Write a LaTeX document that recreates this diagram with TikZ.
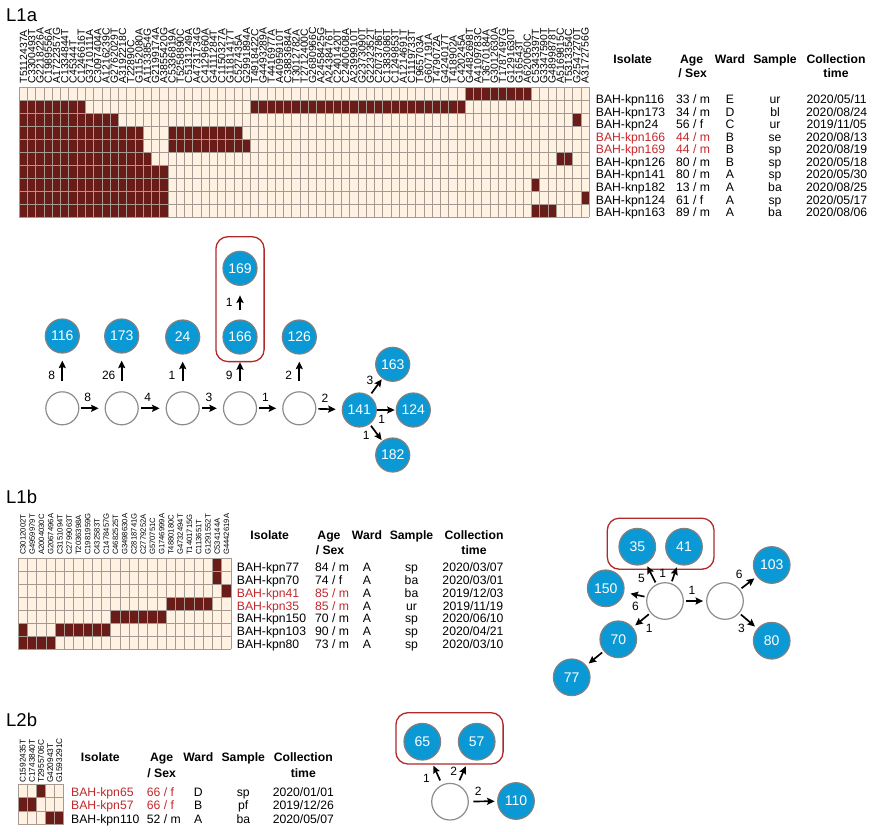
\documentclass[tikz,border=0pt]{standalone}
\usepackage{fontspec}
\setmainfont{Liberation Sans}
\usetikzlibrary{arrows.meta, positioning, fit, calc}

\definecolor{mutcell}{HTML}{6A1C18}
\definecolor{wtcell}{HTML}{FFF2E3}
\definecolor{gridc}{HTML}{A79A93}
\definecolor{isoblue}{HTML}{0A99D5}
\definecolor{boxred}{HTML}{B02A2C}
\definecolor{txtred}{HTML}{C4282C}

\tikzset{
	iso/.style={circle, draw=black!50, line width=1.2pt, fill=isoblue, text=white, minimum size=34pt, inner sep=0pt, font=\fontsize{14}{16}\selectfont},
	isob/.style={iso, minimum size=36.6pt},
	anc/.style={circle, draw=black!45, line width=1.2pt, fill=white, minimum size=33pt, inner sep=0pt},
	ancb/.style={anc, minimum size=36.6pt},
	arr/.style={line width=1.7pt, -{Stealth[length=7.5pt,width=7pt,inset=1.2pt]}, shorten <=2pt, shorten >=3pt},
	uparr/.style={shorten <=10pt, shorten >=7pt},
	elab/.style={inner sep=0.5pt, font=\fontsize{12}{14}\selectfont},
	clus/.style={draw=boxred, line width=1.3pt, rounded corners=12pt},
	gridln/.style={draw=gridc, line width=0.8pt},
	mutlab/.style={rotate=90, anchor=west, inner sep=0pt},
	hdr/.style={font=\bfseries\fontsize{12.2}{14}\selectfont, inner sep=0pt, anchor=base},
	cell/.style={font=\fontsize{12.2}{14}\selectfont, inner sep=0pt},
	panel/.style={font=\fontsize{18.5}{20}\selectfont, anchor=base west, inner sep=0pt},
}

\begin{document}
\begin{tikzpicture}[x=1pt, y=-1pt]
	\useasboundingbox (0,0) rectangle (876,831);
	\fill[white] (0,0) rectangle (876,831);
	
	% panel titles
	\node[panel] (tA) at (6,21.7) {L1a};
	\node[panel] (tB) at (6,503) {L1b};
	\node[panel] (tC) at (6,726.7) {L2b};
	
	%%% L1a
	% SNP matrix
	\def\mutsA{T5112437A,C3300493T,G2218226A,C1989556A,A1722357G,C1334844T,C45344T,C1246616T,G3710111A,C3097404A,A1216239C,G2762029T,A3192218C,T22890C,G1152080A,A1133854G,G2199174A,A3855420G,C5336819A,T5258890C,C5131249A,A4731734G,C4129660A,G4111284T,C1150327A,G1181417T,C527435A,G2991894A,T4918422C,G4493289A,T4416977A,A4095910T,C3883684A,T3012782A,T2712400C,G2680966C,A2458425G,A2438476T,C2401420T,C2400608A,A2399910T,G2373090T,G2232352T,C2073786T,C1383086T,C1249853T,A1214691T,C1119733T,T965703A,G607191A,T479072A,G424017T,T418902A,C420245A,G4482698T,A4109783C,T3670184A,G3012630A,T1787497G,G1291630T,G16543T,A620050C,C5343397T,G3347590T,G4899878T,A5169815C,T5313354C,G2547270T,A3172756G}
	\begin{scope}[shift={(19.3,87.3)}, x=8.26pt, y=-13pt]
		\fill[wtcell] (0,0) rectangle (69,10);
		\foreach \r/\a/\b in {1/55/62, 2/1/8, 2/29/54, 3/1/12, 3/68/68, 4/1/15, 4/19/27, 5/1/15, 5/19/28, 6/1/16, 6/66/67, 7/1/18, 8/1/18, 8/63/63, 9/1/18, 9/69/69, 10/1/18, 10/63/65}
			\fill[mutcell] (\a-1,\r-1) rectangle (\b,\r);
		\foreach \c in {0,...,69} \draw[gridln] (\c,0) -- (\c,10);
		\foreach \r in {0,...,10} \draw[gridln] (0,\r) -- (69,\r);
		\foreach \m [count=\i] in \mutsA
			\node[mutlab, font=\fontsize{10.4}{12}\selectfont] (mA\i) at (\i-0.5,-0.3) {\m};
	\end{scope}
	
	% metadata
	\node[hdr] (hIA) at (632.7,63.3) {Isolate};
	\node[hdr] (hAA) at (691.7,63.3) {Age};
	\node[hdr] (hSA) at (692.7,77.6) {/ Sex};
	\node[hdr] (hWA) at (730,63.3) {Ward};
	\node[hdr] (hPA) at (775,63.3) {Sample};
	\node[hdr] (hCA) at (836,63.3) {Collection};
	\node[hdr] (hTA) at (836,77.6) {time};
	\foreach \iso/\age/\sex/\ward/\smp/\yr/\mo/\dy/\tc [count=\i] in {
		BAH-kpn116/33/m/E/ur/2020/05/11/black,
		BAH-kpn173/34/m/D/bl/2020/08/24/black,
		BAH-kpn24/56/f/C/ur/2019/11/05/black,
		BAH-kpn166/44/m/B/se/2020/08/13/txtred,
		BAH-kpn169/44/m/B/sp/2020/08/19/txtred,
		BAH-kpn126/80/m/B/sp/2020/05/18/black,
		BAH-kpn141/80/m/A/sp/2020/05/30/black,
		BAH-knp182/13/m/A/ba/2020/08/25/black,
		BAH-kpn124/61/f/A/sp/2020/05/17/black,
		BAH-kpn163/89/m/A/ba/2020/08/06/black}{
		\node[cell, anchor=base west, text=\tc] (iA\i) at (595.7,91.05+12.55*\i) {\iso};
		\node[cell, anchor=base west, text=\tc] (gA\i) at (676,91.05+12.55*\i) {\age\ / \sex};
		\node[cell, anchor=base] (wA\i) at (730,91.05+12.55*\i) {\ward};
		\node[cell, anchor=base] (sA\i) at (775,91.05+12.55*\i) {\smp};
		\node[cell, anchor=base] (dA\i) at (836.7,91.05+12.55*\i) {\yr/\mo/\dy};
	}
	
	% transmission tree
	\node[anc] (a1) at (62.3,408.3) {};
	\node[anc] (a2) at (121.7,408.3) {};
	\node[anc] (a3) at (182.7,408.3) {};
	\node[anc] (a4) at (240,408.3) {};
	\node[anc] (a5) at (299.3,408.3) {};
	\node[iso] (n116) at (62.3,336) {116};
	\node[iso] (n173) at (121.7,336) {173};
	\node[iso] (n24) at (182.7,337) {24};
	\node[iso] (n166) at (240,337) {166};
	\node[iso] (n169) at (240,268.3) {169};
	\node[iso] (n126) at (299.3,337) {126};
	\node[iso] (n141) at (359.3,410) {141};
	\node[iso] (n163) at (392.7,364.3) {163};
	\node[iso] (n124) at (413.3,410) {124};
	\node[iso] (n182) at (392.7,455) {182};
	\coordinate (c1top) at (240,243.7);
	\node[clus, inner xsep=6.5pt, inner ysep=7pt, fit=(n166)(c1top)] (box1) {};
	
	\draw[arr, shorten >=6pt] (a1) -- node[elab, above=5.5pt, pos=0.33] (h1) {8} (a2);
	\draw[arr, shorten >=6pt] (a2) -- node[elab, above=5.5pt, pos=0.33] (h2) {4} (a3);
	\draw[arr, shorten >=6pt] (a3) -- node[elab, above=5.5pt, pos=0.4] (h3) {3} (a4);
	\draw[arr, shorten >=6pt] (a4) -- node[elab, above=5.5pt, pos=0.33] (h4) {1} (a5);
	\draw[arr, shorten >=6pt] (a5) -- node[elab, above=5.5pt, pos=0.34] (h5) {2} (n141);
	
	\draw[arr, uparr] (a1) -- node[elab, left=6pt, pos=0.43] (v1) {8} (n116);
	\draw[arr, uparr] (a2) -- node[elab, left=5pt, pos=0.43] (v2) {26} (n173);
	\draw[arr, uparr] (a3) -- node[elab, left=6pt, pos=0.43] (v3) {1} (n24);
	\draw[arr, shorten <=10pt, shorten >=0pt] (a4) -- node[elab, left=6pt, pos=0.55] (v4) {9} (box1);
	\draw[arr, uparr] (a5) -- node[elab, left=6pt, pos=0.43] (v5) {2} (n126);
	\draw[arr, shorten <=9pt, shorten >=9.5pt] (n166) -- node[elab, left=6pt] (v6) {1} (n169);
	
	\draw[arr, shorten <=3pt, shorten >=1pt] (n141) -- node[elab, above left=2pt] (r1) {3} (n163);
	\draw[arr, shorten <=0pt, shorten >=1pt] (n141) -- node[elab, below=4pt, pos=0.25] (r2) {1} (n124);
	\draw[arr, shorten >=1pt] (n141) -- node[elab, left=7pt, pos=0.65] (r3) {1} (n182);
	
	%%% L1b
	% SNP matrix
	\def\mutsB{C3012002T,G4959979T,A2004030C,G2067496A,C3151094T,C2799063T,T2036398A,C1981959G,C432583T,C1478457G,C4682525T,G3498630A,C2818741G,C2779252A,G570751C,G1746999A,T4880180C,G4732494T,T1401715G,C113651T,G1291552T,C534144A,G4442619A}
	\begin{scope}[shift={(18.3,558.3)}, x=9.25pt, y=-12.95pt]
		\fill[wtcell] (0,0) rectangle (23,7);
		\foreach \r/\a/\b in {1/22/22, 2/22/22, 3/23/23, 4/17/21, 5/11/16, 6/1/1, 6/5/10, 7/1/4}
			\fill[mutcell] (\a-1,\r-1) rectangle (\b,\r);
		\foreach \c in {0,...,23} \draw[gridln] (\c,0) -- (\c,7);
		\foreach \r in {0,...,7} \draw[gridln] (0,\r) -- (23,\r);
		\foreach \m [count=\i] in \mutsB
			\node[mutlab, font=\fontsize{7.7}{9}\selectfont] (mB\i) at (\i-0.5,-0.25) {\m};
	\end{scope}
	
	% metadata
	\node[hdr] (hIB) at (269.7,539.3) {Isolate};
	\node[hdr] (hAB) at (329,539.3) {Age};
	\node[hdr] (hSB) at (330,554) {/ Sex};
	\node[hdr] (hWB) at (367,539.3) {Ward};
	\node[hdr] (hPB) at (411.5,539.3) {Sample};
	\node[hdr] (hCB) at (474,539.3) {Collection};
	\node[hdr] (hTB) at (474,554) {time};
	\foreach \iso/\age/\sex/\ward/\smp/\yr/\mo/\dy/\tc [count=\i] in {
		BAH-kpn77/84/m/A/sp/2020/03/07/black,
		BAH-kpn70/74/f/A/ba/2020/03/01/black,
		BAH-kpn41/85/m/A/ba/2019/12/03/txtred,
		BAH-kpn35/85/m/A/ur/2019/11/19/txtred,
		BAH-kpn150/70/m/A/sp/2020/06/10/black,
		BAH-kpn103/90/m/A/sp/2020/04/21/black,
		BAH-kpn80/73/m/A/sp/2020/03/10/black}{
		\node[cell, anchor=base west, text=\tc] (iB\i) at (236.7,558.8+12.8*\i) {\iso};
		\node[cell, anchor=base west, text=\tc] (gB\i) at (315,558.8+12.8*\i) {\age\ / \sex};
		\node[cell, anchor=base] (wB\i) at (367,558.8+12.8*\i) {\ward};
		\node[cell, anchor=base] (sB\i) at (411.5,558.8+12.8*\i) {\smp};
		\node[cell, anchor=base] (dB\i) at (473,558.8+12.8*\i) {\yr/\mo/\dy};
	}
	
	% transmission tree
	\node[ancb] (b1) at (665,601) {};
	\node[ancb] (b2) at (725,601) {};
	\node[isob] (n35) at (637.3,546.7) {35};
	\node[isob] (n41) at (684,546.7) {41};
	\node[isob] (n150) at (605.7,588.3) {150};
	\node[isob] (n70) at (618.3,639.3) {70};
	\node[isob] (n77) at (571.7,677.3) {77};
	\node[isob] (n103) at (771.7,565) {103};
	\node[isob] (n80) at (771.7,640.7) {80};
	\coordinate (c2top) at (660,521.8);
	\node[clus, inner xsep=11.1pt, inner ysep=3.6pt, fit=(n35)(n41)(c2top)] (box2) {};
	
	\draw[arr] (b1) -- node[elab, left=7pt, pos=0.3] (m1) {5} (n35);
	\draw[arr] (b1) -- node[elab, left=7pt] (m2) {1} (n41);
	\draw[arr, shorten >=6.5pt] (b1) -- node[elab, below=6pt] (m3) {6} (n150);
	\draw[arr] (b1) -- node[elab, below right=4pt] (m4) {1} (n70);
	\draw[arr] (b1) -- node[elab, above=5.5pt, pos=0.36] (m5) {1} (b2);
	\draw[arr] (b2) -- node[elab, above left=5pt, pos=0.45] (m6) {6} (n103);
	\draw[arr] (b2) -- node[elab, below left=3pt] (m7) {3} (n80);
	\draw[arr] (n70) -- (n77);
	
	%%% L2b
	% SNP matrix
	\def\mutsC{C1592435T,C1743840T,T2955706C,G420943T,G1593291C}
	\begin{scope}[shift={(18.3,784.3)}, x=9.1pt, y=-13.3pt]
		\fill[wtcell] (0,0) rectangle (5,3);
		\foreach \r/\a/\b in {1/3/3, 2/1/2, 3/4/5}
			\fill[mutcell] (\a-1,\r-1) rectangle (\b,\r);
		\foreach \c in {0,...,5} \draw[gridln] (\c,0) -- (\c,3);
		\foreach \r in {0,...,3} \draw[gridln] (0,\r) -- (5,\r);
		\foreach \m [count=\i] in \mutsC
			\node[mutlab, font=\fontsize{8.3}{10}\selectfont] (mC\i) at (\i-0.5,-0.1) {\m};
	\end{scope}
	
	% metadata
	\node[hdr] (hIC) at (100.3,761.6) {Isolate};
	\node[hdr] (hAC) at (161.7,761.6) {Age};
	\node[hdr] (hSC) at (161.7,777) {/ Sex};
	\node[hdr] (hWC) at (198.3,761.6) {Ward};
	\node[hdr] (hPC) at (243.3,761.6) {Sample};
	\node[hdr] (hCC) at (303.3,761.6) {Collection};
	\node[hdr] (hTC) at (303.3,777) {time};
	\foreach \iso/\age/\sex/\ward/\smp/\yr/\mo/\dy/\tc [count=\i] in {
		BAH-kpn65/66/f/D/sp/2020/01/01/txtred,
		BAH-kpn57/66/f/B/pf/2019/12/26/txtred,
		BAH-kpn110/52/m/A/ba/2020/05/07/black}{
		\node[cell, anchor=base west, text=\tc] (iC\i) at (71,782.2+13.8*\i) {\iso};
		\node[cell, anchor=base west, text=\tc] (gC\i) at (146.7,782.2+13.8*\i) {\age\ / \sex};
		\node[cell, anchor=base] (wC\i) at (198.3,782.2+13.8*\i) {\ward};
		\node[cell, anchor=base] (sC\i) at (243.3,782.2+13.8*\i) {\smp};
		\node[cell, anchor=base] (dC\i) at (303.3,782.2+13.8*\i) {\yr/\mo/\dy};
	}
	
	% transmission tree
	\node[ancb] (c1) at (450,801.7) {};
	\node[isob] (n65) at (422.3,741.7) {65};
	\node[isob] (n57) at (476.7,741.7) {57};
	\node[isob] (n110) at (516,801) {110};
	\coordinate (c3top) at (450,716.1);
	\node[clus, inner xsep=7.5pt, inner ysep=3.4pt, fit=(n65)(n57)(c3top)] (box3) {};
	
	\draw[arr, shorten <=4.5pt, shorten >=7.5pt] (c1) -- node[elab, left=8pt, pos=0.25] (k1) {1} (n65);
	\draw[arr, shorten <=4.5pt, shorten >=8pt] (c1) -- node[elab, left=5pt] (k2) {2} (n57);
	\draw[arr, shorten <=4.5pt, shorten >=2.5pt] (c1) -- node[elab, above=5pt, pos=0.33] (k3) {2} (n110);
\end{tikzpicture}
\end{document}
